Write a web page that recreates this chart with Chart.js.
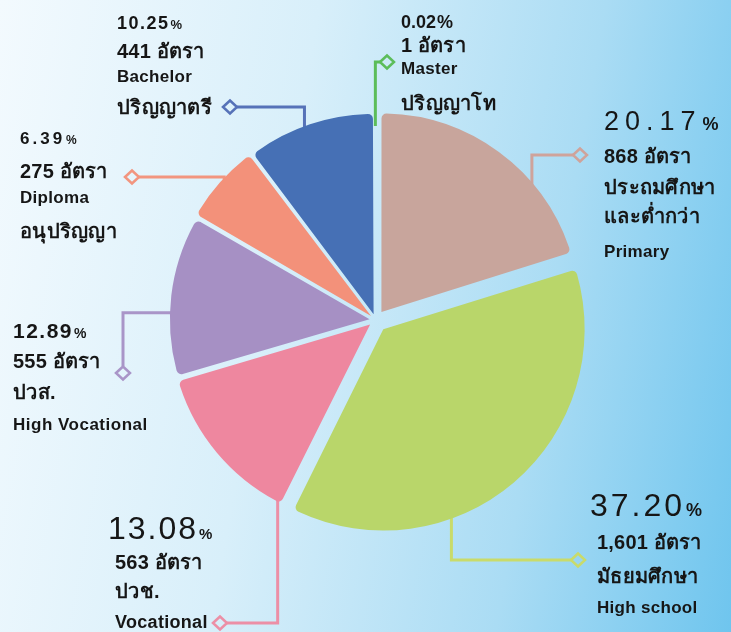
<!DOCTYPE html>
<html>
<head>
<meta charset="utf-8">
<script src="https://cdn.jsdelivr.net/npm/chart.js"></script>
<style>
  html, body { margin: 0; padding: 0; }
  body {
    width: 731px; height: 632px; overflow: hidden;
    background: linear-gradient(100deg, #f3fafe 0%, #d8effa 38%, #aadcf4 72%, #6fc5ee 100%);
  }
  canvas { display: block; }
</style>
</head>
<body>
<canvas id="chartPuestos" width="731" height="632"></canvas>
<script>
// datos del grafico
const categoriesTh = ['ประถมศึกษา\nและต่ำกว่า', 'มัธยมศึกษา', 'ปวช.', 'ปวส.', 'อนุปริญญา', 'ปริญญาตรี', 'ปริญญาโท'];
const categoriesEn = ['Primary', 'High school', 'Vocational', 'High Vocational', 'Diploma', 'Bachelor', 'Master'];
const positions = [868, 1601, 563, 555, 275, 441, 1];
const percentLabels = ['20.17', '37.20', '13.08', '12.89', '6.39', '10.25', '0.02'];

const sliceColors = ['#c8a59c', '#b9d66a', '#ee879f', '#a690c4', '#f3917a', '#4670b5', '#55b94f'];
const lineColors = ['#cfa39b', '#c9db6a', '#ec8fa6', '#a995c8', '#f2957f', '#5672b8', '#5cbd5a'];
const offsets = [40, 48, 28, 24, 24, 24, 28];

// posicion de cada etiqueta: pct = [tamano, espaciado, tamano %, peso]
const labelBoxes = [
  { x: 604, x2: 604, diamond: [580, 155], bend: 'h', at: 0.74, pct: [27, 6, 18, 'normal'], count: 20, en: [17, 0.3],
    rows: [['pct', 120], ['count', 157], ['th', 188], ['th', 217], ['en', 252]] },
  { x: 590, x2: 597, diamond: [578, 560], bend: 'h', at: 0.63, pct: [32, 3, 18, 'normal'], count: 20, en: [17, 0.3],
    rows: [['pct', 504], ['count', 543], ['th', 577], ['en', 608]] },
  { x: 108, x2: 115, diamond: [220, 623], bend: 'h', at: 0.08, pct: [32, 2, 15, 'normal'], count: 20, en: [18, 0.3],
    rows: [['pct', 527], ['count', 563], ['th', 592], ['en', 623]] },
  { x: 13, x2: 13, diamond: [123, 373], bend: 'v', at: 0.4, pct: [21, 1.5, 14, 'bold'], count: 20, en: [17, 0.5],
    rows: [['pct', 330], ['count', 362], ['th', 393], ['en', 425]] },
  { x: 20, x2: 20, diamond: [132, 177], bend: 'h', at: 0.38, pct: [17, 3, 12, 'bold'], count: 20, en: [17, 0.3],
    rows: [['pct', 138], ['count', 172], ['en', 198], ['th', 232]] },
  { x: 117, x2: 117, diamond: [230, 107], bend: 'h', at: 0.42, pct: [18, 1.5, 13, 'bold'], count: 20, en: [17, 0.3],
    rows: [['pct', 23], ['count', 52], ['en', 77], ['th', 108]] },
  { x: 401, x2: 401, diamond: [387, 62], bend: 'h', at: 0.5, pct: [18, 0, 18, 'bold'], count: 20, en: [17, 0.3],
    rows: [['pct', 22], ['count', 46], ['en', 69], ['th', 104]] }
];

const FONT = "'Liberation Sans', Arial, sans-serif";
const TEXT = '#161616';

function drawText(ctx, str, x, y, font, spacing) {
  ctx.font = font;
  ctx.letterSpacing = spacing + 'px';
  ctx.fillText(str, x, y);
  const w = ctx.measureText(str).width;
  ctx.letterSpacing = '0px';
  return w;
}

const leaderLines = {
  id: 'leaderLines',
  beforeDatasetsDraw(chart) {
    const ctx = chart.ctx;
    const arcs = chart.getDatasetMeta(0).data;
    ctx.save();
    arcs.forEach((arc, i) => {
      const box = labelBoxes[i];
      const p = arc.getProps(['x', 'y', 'startAngle', 'endAngle', 'outerRadius'], true);
      const a = p.startAngle + box.at * (p.endAngle - p.startAngle);
      const r = p.outerRadius - 4;
      const px = p.x + Math.cos(a) * r;
      const py = p.y + Math.sin(a) * r;
      const [dx, dy] = box.diamond;
      ctx.strokeStyle = lineColors[i];
      ctx.lineWidth = 3;
      ctx.beginPath();
      if (box.bend === 'h') {
        ctx.moveTo(px > dx ? dx + 7 : dx - 7, dy);
        ctx.lineTo(px, dy);
      } else {
        ctx.moveTo(dx, py > dy ? dy + 7 : dy - 7);
        ctx.lineTo(dx, py);
      }
      ctx.lineTo(px, py);
      ctx.stroke();
      // diamante
      ctx.lineWidth = 2.5;
      ctx.beginPath();
      ctx.moveTo(dx - 7, dy);
      ctx.lineTo(dx, dy - 6.5);
      ctx.lineTo(dx + 7, dy);
      ctx.lineTo(dx, dy + 6.5);
      ctx.closePath();
      ctx.stroke();
    });
    ctx.restore();
  },
  afterDraw(chart) {
    const ctx = chart.ctx;
    ctx.save();
    ctx.fillStyle = TEXT;
    ctx.textAlign = 'left';
    labelBoxes.forEach((box, i) => {
      const thLines = categoriesTh[i].split('\n');
      let t = 0;
      box.rows.forEach(([kind, y]) => {
        if (kind === 'pct') {
          const [size, sp, small, weight] = box.pct;
          ctx.textBaseline = 'alphabetic';
          const base = y + size * 0.36;
          const w = drawText(ctx, percentLabels[i], box.x, base, `${weight} ${size}px ${FONT}`, sp);
          drawText(ctx, '%', box.x + w + 1, base, `bold ${small}px ${FONT}`, 0);
        } else if (kind === 'count') {
          ctx.textBaseline = 'middle';
          drawText(ctx, positions[i].toLocaleString('en-US') + ' อัตรา', box.x2, y, `bold ${box.count}px ${FONT}`, 0.2);
        } else if (kind === 'th') {
          ctx.textBaseline = 'middle';
          drawText(ctx, thLines[t++], box.x2, y, `bold 20px ${FONT}`, 0.3);
        } else {
          ctx.textBaseline = 'middle';
          drawText(ctx, categoriesEn[i], box.x2, y, `bold ${box.en[0]}px ${FONT}`, box.en[1]);
        }
      });
    });
    ctx.restore();
  }
};

const ctx = document.getElementById('chartPuestos');
new Chart(ctx, {
  type: 'pie',
  data: {
    labels: categoriesEn,
    datasets: [{
      data: positions,
      backgroundColor: sliceColors,
      borderWidth: 0,
      borderRadius: 5,
      offset: offsets
    }]
  },
  options: {
    responsive: false,
    animation: false,
    radius: 198,
    rotation: 0,
    layout: { padding: { left: 174, right: 154, top: 118, bottom: 110 } },
    plugins: {
      legend: { display: false },
      tooltip: { enabled: false }
    }
  },
  plugins: [leaderLines]
});
</script>
</body>
</html>
